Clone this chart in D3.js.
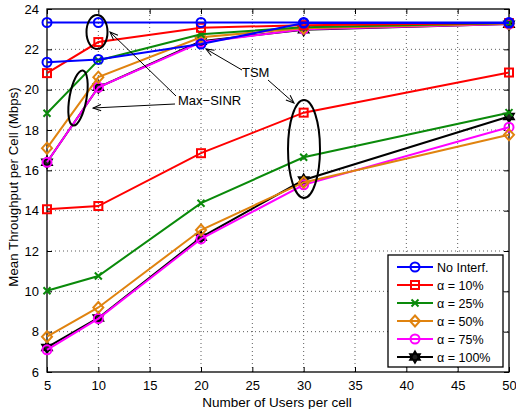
<!DOCTYPE html>
<html>
<head>
<meta charset="utf-8">
<script src="https://cdn.jsdelivr.net/npm/d3@7"></script>
<style>
  body { margin: 0; background: #fff; }
  svg { display: block; font-family: "Liberation Sans", Arial, sans-serif; }
</style>
</head>
<body>
<svg id="chart" width="516" height="409"></svg>
<script>
// number of users per cell
var users = [5, 10, 20, 30, 50];
var xTicks = [5, 10, 15, 20, 25, 30, 35, 40, 45, 50];
var yTicks = [6, 8, 10, 12, 14, 16, 18, 20, 22, 24];

var seriesNames = ["No Interf.", "\u03b1 = 10%", "\u03b1 = 25%", "\u03b1 = 50%", "\u03b1 = 75%", "\u03b1 = 100%"];
var seriesColors = ["#0000ff", "#ff0000", "#0a8a0a", "#e0830f", "#ff00ff", "#000000"];
var seriesMarkers = ["circle", "square", "x", "diamond", "circle", "hexagram"];

// Max-SINR curves (upper group)
var noInterfMax = [23.33, 23.33, 23.33, 23.33, 23.33];
var a10Max = [20.82, 22.36, 23.07, 23.2, 23.3];
var a25Max = [18.83, 21.45, 22.75, 23.1, 23.3];
var a50Max = [17.1, 20.62, 22.6, 23.05, 23.28];
var a75Max = [16.4, 20.12, 22.35, 23.0, 23.25];
var a100Max = [16.4, 20.12, 22.4, 22.97, 23.25];

// TSM curves (lower group)
var noInterfTsm = [21.36, 21.5, 22.26, 23.3, 23.3];
var a10Tsm = [14.07, 14.23, 16.85, 18.86, 20.85];
var a25Tsm = [10.03, 10.76, 14.37, 16.65, 18.86];
var a50Tsm = [7.75, 9.2, 13.04, 15.4, 17.76];
var a75Tsm = [7.1, 8.65, 12.6, 15.28, 18.14];
var a100Tsm = [7.22, 8.68, 12.68, 15.52, 18.67];

var maxSets = [noInterfMax, a10Max, a25Max, a50Max, a75Max, a100Max];
var tsmSets = [noInterfTsm, a10Tsm, a25Tsm, a50Tsm, a75Tsm, a100Tsm];

var margin = { top: 9, right: 7, bottom: 37, left: 47 };
var width = 516, height = 409;
var svg = d3.select("#chart");

var x = d3.scaleLinear().domain([5, 50]).range([margin.left, width - margin.right]);
var y = d3.scaleLinear().domain([6, 24]).range([height - margin.bottom, margin.top]);

// grid
var grid = svg.append("g").attr("stroke", "#333").attr("stroke-width", 0.8).attr("stroke-dasharray", "1,3");
grid.selectAll(".gx").data(xTicks.slice(1, -1)).enter().append("line")
  .attr("x1", d => x(d)).attr("x2", d => x(d))
  .attr("y1", y(6)).attr("y2", y(24));
grid.selectAll(".gy").data(yTicks.slice(1, -1)).enter().append("line")
  .attr("y1", d => y(d)).attr("y2", d => y(d))
  .attr("x1", x(5)).attr("x2", x(50));

// axes (matlab style box, ticks inside)
function styleAxis(g) {
  g.select(".domain").remove();
  g.selectAll(".tick line").attr("stroke", "#000").attr("stroke-width", 1);
  g.selectAll(".tick text").attr("fill", "#000").style("font-size", "13px");
}
svg.append("g").attr("transform", `translate(0,${y(6)})`)
  .call(d3.axisBottom(x).tickValues(xTicks).tickSizeInner(-5).tickPadding(9).tickFormat(d3.format("d")))
  .call(styleAxis);
svg.append("g").attr("transform", `translate(0,${y(24)})`)
  .call(d3.axisTop(x).tickValues(xTicks).tickSizeInner(-5).tickFormat(""))
  .call(styleAxis);
svg.append("g").attr("transform", `translate(${x(5)},0)`)
  .call(d3.axisLeft(y).tickValues(yTicks).tickSizeInner(-5).tickPadding(8).tickFormat(d3.format("d")))
  .call(styleAxis);
svg.append("g").attr("transform", `translate(${x(50)},0)`)
  .call(d3.axisRight(y).tickValues(yTicks).tickSizeInner(-5).tickFormat(""))
  .call(styleAxis);

svg.append("rect")
  .attr("x", x(5)).attr("y", y(24))
  .attr("width", x(50) - x(5)).attr("height", y(6) - y(24))
  .attr("fill", "none").attr("stroke", "#000").attr("stroke-width", 1.3);

// markers
function drawMarker(g, type, color, cx, cy) {
  if (type === "circle") {
    g.append("circle").attr("cx", cx).attr("cy", cy).attr("r", 4.5)
      .attr("fill", "none").attr("stroke", color).attr("stroke-width", 2);
  } else if (type === "square") {
    g.append("rect").attr("x", cx - 4).attr("y", cy - 4).attr("width", 8).attr("height", 8)
      .attr("fill", "none").attr("stroke", color).attr("stroke-width", 2);
  } else if (type === "diamond") {
    g.append("path").attr("d", `M${cx},${cy - 5.5}L${cx + 5},${cy}L${cx},${cy + 5.5}L${cx - 5},${cy}Z`)
      .attr("fill", "none").attr("stroke", color).attr("stroke-width", 2);
  } else if (type === "x") {
    g.append("path").attr("d", `M${cx - 3.5},${cy - 3.5}L${cx + 3.5},${cy + 3.5}M${cx - 3.5},${cy + 3.5}L${cx + 3.5},${cy - 3.5}`)
      .attr("stroke", color).attr("stroke-width", 2);
  } else if (type === "hexagram") {
    var r = 6, pts1 = [], pts2 = [];
    for (var k = 0; k < 3; k++) {
      var a1 = -Math.PI / 2 + k * 2 * Math.PI / 3;
      var a2 = Math.PI / 2 + k * 2 * Math.PI / 3;
      pts1.push([cx + r * Math.cos(a1), cy + r * Math.sin(a1)]);
      pts2.push([cx + r * Math.cos(a2), cy + r * Math.sin(a2)]);
    }
    g.append("path").attr("d", "M" + pts1.join("L") + "Z" + "M" + pts2.join("L") + "Z")
      .attr("fill", "#222").attr("stroke", color).attr("stroke-width", 1.5);
  }
}

var line = d3.line().x((d, i) => x(users[i])).y(d => y(d));
var plot = svg.append("g");

function drawSeries(vals, i) {
  plot.append("path").datum(vals)
    .attr("d", line)
    .attr("fill", "none")
    .attr("stroke", seriesColors[i])
    .attr("stroke-width", 2);
  vals.forEach(function (v, j) {
    drawMarker(plot, seriesMarkers[i], seriesColors[i], x(users[j]), y(v));
  });
}

for (var i = seriesNames.length - 1; i >= 1; i--) {
  drawSeries(tsmSets[i], i);
}
for (var i = seriesNames.length - 1; i >= 1; i--) {
  drawSeries(maxSets[i], i);
}
drawSeries(tsmSets[0], 0);
drawSeries(maxSets[0], 0);

// annotations
svg.append("defs").append("marker")
  .attr("id", "arr").attr("viewBox", "0 0 10 10")
  .attr("refX", 10).attr("refY", 5)
  .attr("markerWidth", 10).attr("markerHeight", 8)
  .attr("orient", "auto")
  .append("path").attr("d", "M0,1L10,5L0,9").attr("fill", "none").attr("stroke", "#000").attr("stroke-width", 1.3);

var ann = svg.append("g").attr("stroke", "#000").attr("fill", "none");
ann.append("ellipse").attr("cx", 97).attr("cy", 32).attr("rx", 10.5).attr("ry", 17).attr("stroke-width", 2);
ann.append("ellipse").attr("cx", 78).attr("cy", 98).attr("rx", 8.5).attr("ry", 28)
  .attr("transform", "rotate(10,78,98)").attr("stroke-width", 2);
ann.append("ellipse").attr("cx", 304).attr("cy", 149).attr("rx", 16).attr("ry", 49).attr("stroke-width", 2);

var arrows = [
  [176, 96, 110, 32],
  [175, 104, 93, 108],
  [242, 70, 206, 49],
  [268, 80, 294, 103]
];
arrows.forEach(function (a) {
  ann.append("line").attr("x1", a[0]).attr("y1", a[1]).attr("x2", a[2]).attr("y2", a[3])
    .attr("stroke-width", 1).attr("marker-end", "url(#arr)");
});

svg.append("text").attr("x", 178).attr("y", 105).style("font-size", "13px").text("Max\u2212SINR");
svg.append("text").attr("x", 242).attr("y", 77).style("font-size", "13px").text("TSM");

// axis titles
svg.append("text").attr("x", 277).attr("y", 406.5)
  .attr("text-anchor", "middle").style("font-size", "13.5px").text("Number of Users per cell");
svg.append("text").attr("transform", `translate(17.5,187) rotate(-90)`)
  .attr("text-anchor", "middle").style("font-size", "13.3px").text("Mean Throughput per Cell (Mbps)");

// legend
var lg = svg.append("g");
lg.append("rect").attr("x", 388).attr("y", 255).attr("width", 115).attr("height", 112)
  .attr("fill", "#fff").attr("stroke", "#000").attr("stroke-width", 1.3);
seriesNames.forEach(function (name, i) {
  var ly = 267 + i * 18;
  lg.append("line").attr("x1", 397).attr("x2", 433).attr("y1", ly).attr("y2", ly)
    .attr("stroke", seriesColors[i]).attr("stroke-width", 2);
  drawMarker(lg, seriesMarkers[i], seriesColors[i], 415, ly);
  lg.append("text").attr("x", 437).attr("y", ly + 4.5).style("font-size", "12.5px").text(name);
});
</script>
</body>
</html>
